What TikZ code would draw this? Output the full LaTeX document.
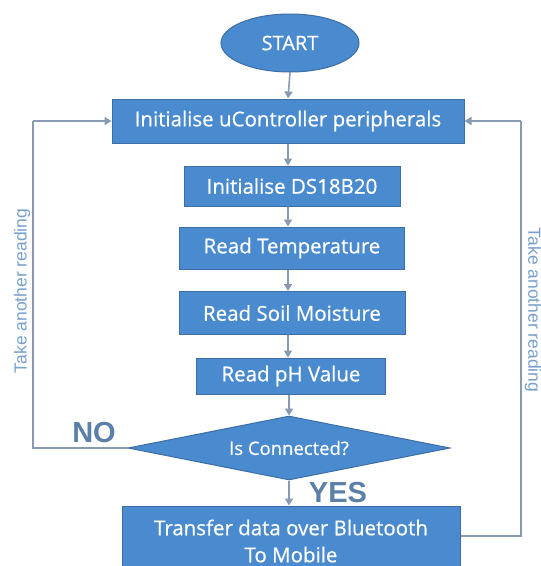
\documentclass[tikz,border=0pt]{standalone}
\usepackage{fontspec}
\setmainfont{Open Sans}
\newfontfamily\boxfont{Open Sans}[FakeBold=0.6]
\newfontfamily\labfont{Liberation Sans}
\usetikzlibrary{shapes.geometric,arrows.meta}
\definecolor{boxblue}{RGB}{74,138,206}
\definecolor{boxedge}{RGB}{60,110,165}
\definecolor{linegray}{RGB}{135,155,180}
\definecolor{labblue}{RGB}{90,128,168}
\definecolor{sideblue}{RGB}{120,160,205}
\begin{document}
\begin{tikzpicture}[x=1pt,y=-1pt,
  stepbox/.style={rectangle,draw=boxedge,line width=1pt,fill=boxblue,text=white,
    font=\boxfont\fontsize{20.5}{24}\selectfont,inner sep=0pt,anchor=center},
  flow/.style={draw=linegray,line width=1.6pt,-{Triangle[length=7pt,width=8pt]}},
  loop/.style={draw=linegray,line width=1.6pt},
  yn/.style={text=labblue,font=\labfont\bfseries\fontsize{29}{32}\selectfont},
  side/.style={text=sideblue,font=\labfont\fontsize{17.5}{20}\selectfont}]
\useasboundingbox (0,0) rectangle (541,566);
\clip (0,0) rectangle (541,566);
\fill[white] (0,0) rectangle (541,566);

\node[ellipse,draw=boxedge,line width=1pt,fill=boxblue,text=white,
  font=\boxfont\fontsize{20}{24}\selectfont,minimum width=138pt,minimum height=58pt,inner sep=0pt]
  (start) at (290,43) {START};
\node[stepbox,minimum width=352pt,minimum height=44pt] (init) at (288,121) {Initialise uController peripherals};
\node[stepbox,minimum width=216pt,minimum height=40pt] (ds) at (292,186) {Initialise DS18B20};
\node[stepbox,minimum width=225pt,minimum height=42pt] (temp) at (292,248) {Read Temperature};
\node[stepbox,minimum width=226pt,minimum height=43pt] (soil) at (292,313) {Read Soil Moisture};
\node[stepbox,minimum width=189pt,minimum height=36pt] (ph) at (291,376) {Read pH Value};
\node[diamond,draw=boxedge,line width=1pt,fill=boxblue,text=white,
  font=\boxfont\fontsize{18.5}{22}\selectfont,minimum width=322pt,minimum height=64pt,inner sep=0pt,aspect=5]
  (conn) at (289,448) {Is Connected?};
\node[stepbox,minimum width=338pt,minimum height=70pt,align=center,
  font=\boxfont\fontsize{20.5}{27}\selectfont] (bt) at (291,541) {Transfer data over Bluetooth\\To Mobile};

\coordinate (lb) at (33,448);
\coordinate (lt) at (33,121);
\coordinate (rb) at (521,536);
\coordinate (rt) at (521,121);
\coordinate (btr) at (bt.east |- rb);

\draw[flow] (start.south) -- (init.north);
\draw[flow] (init.south) -- (ds.north -| init.south);
\draw[flow] (ds.south -| init.south) -- (temp.north -| init.south);
\draw[flow] (temp.south -| init.south) -- (soil.north -| init.south);
\draw[flow] (soil.south -| init.south) -- (ph.north -| init.south);
\draw[flow] (ph.south -| conn.north) -- (conn.north);
\draw[flow] (conn.south) -- (bt.north -| conn.south);

\draw[loop] (conn.west) -- (lb) -- (lt);
\draw[flow] (lt) -- (init.west);
\draw[loop] (btr) -- (rb) -- (rt);
\draw[flow] (rt) -- (init.east);

\node[yn] (no) at (94,433) {NO};
\node[yn] (yes) at (338,493) {YES};
\node[side,rotate=90] (tl) at (22,291) {Take another reading};
\node[side,rotate=-90] (tr) at (533,310) {Take another reading};
\end{tikzpicture}
\end{document}
